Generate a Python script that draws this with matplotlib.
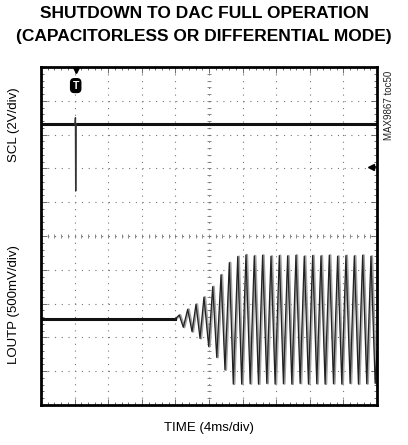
#!/usr/bin/env python3
"""Scope capture: shutdown to DAC full operation (capacitorless / differential)."""

import matplotlib
matplotlib.use("Agg")
import matplotlib.pyplot as plt
import numpy as np

plt.rcParams["font.family"] = ["Liberation Sans", "DejaVu Sans"]
plt.rcParams["lines.scale_dashes"] = False

# time in ms (4 ms/div), amplitude in screen divisions (0..10)
scl_t = [0.0, 40.0]
scl_y = [8.31, 8.31]
scl_spike_t = [4.06, 4.10, 4.13, 4.17]
scl_spike_y = [8.31, 8.50, 6.33, 8.31]

loutp_idle_t = [0.0, 15.95]
loutp_idle_y = [2.54, 2.54]

# extrema of the LOUTP burst
loutp_t = [15.95, 16.46, 16.94, 17.46, 17.98, 18.45, 18.93, 19.40, 19.96,
           20.44, 20.92, 21.43, 21.90, 22.42, 22.89, 23.42, 23.89, 24.40,
           24.90, 25.39, 25.89, 26.38, 26.88, 27.38, 27.87, 28.37, 28.86,
           29.36, 29.86, 30.35, 30.85, 31.34, 31.84, 32.34, 32.83, 33.33,
           33.82, 34.32, 34.82, 35.31, 35.81, 36.30, 36.80, 37.30, 37.79,
           38.29, 38.78, 39.28, 39.78, 40.0]
loutp_y = [2.54, 2.66, 2.30, 2.83, 2.17, 2.98, 1.97, 3.19, 1.73,
           3.50, 1.41, 3.85, 1.04, 4.21, 0.62, 4.39, 0.62, 4.44,
           0.63, 4.41, 0.62, 4.43, 0.64, 4.40, 0.62, 4.42, 0.63,
           4.41, 0.62, 4.43, 0.64, 4.40, 0.62, 4.42, 0.63, 4.41,
           0.62, 4.43, 0.63, 4.40, 0.62, 4.42, 0.64, 4.41, 0.62,
           4.43, 0.63, 4.40, 0.64, 1.60]

W, H = 408, 445
fig = plt.figure(figsize=(W / 100, H / 100), dpi=100)
ax = fig.add_axes([41 / W, 1 - 405 / H, 336 / W, 338 / H])
ax.set_xlim(0, 40)
ax.set_ylim(0, 10)

# graticule
dots = (0, (0.8, 4.05))
for x in np.arange(4, 40, 4):
    ax.axvline(x, color="#777777", lw=0.8, ls=dots, zorder=1)
for y in range(1, 10):
    ax.axhline(y, color="#777777", lw=0.8, ls=dots, zorder=1)
minor_x = np.arange(0, 40.01, 0.8)
minor_y = np.arange(0, 10.01, 0.2)
ax.plot(minor_x, np.full_like(minor_x, 5), ls="none", marker="|", ms=3.2,
        mew=0.6, color="#777777", zorder=1)
ax.plot(np.full_like(minor_y, 20), minor_y, ls="none", marker="_", ms=3.2,
        mew=0.6, color="#777777", zorder=1)

ax.set_xticks(np.arange(0, 41, 4))
ax.set_xticks(minor_x, minor=True)
ax.set_yticks(np.arange(0, 11, 1))
ax.set_yticks(minor_y, minor=True)
ax.tick_params(which="both", direction="in", top=True, right=True,
               labelbottom=False, labelleft=False, color="#555555")
ax.tick_params(which="major", length=4, width=0.6)
ax.tick_params(which="minor", length=2.5, width=0.6)
for s in ax.spines.values():
    s.set_linewidth(2.0)
    s.set_zorder(5)

# traces
ax.plot(scl_t, scl_y, color="#111111", lw=2.2, zorder=3)
ax.plot(scl_spike_t, scl_spike_y, color="#333333", lw=1.0, zorder=3)
ax.plot(loutp_idle_t, loutp_idle_y, color="#111111", lw=2.2, zorder=3)
ax.plot(np.asarray(loutp_t) + 0.12, loutp_y, color="#a0a0a0", lw=1.7, zorder=2)
ax.plot(loutp_t, loutp_y, color="#222222", lw=0.9, zorder=3)

# trigger marker and ground marker
ax.plot([4.13], [9.9], marker="v", ms=5, color="black", clip_on=False, zorder=6)
ax.text(4.13, 9.45, "T", color="white", fontsize=7.5, fontweight="bold",
        ha="center", va="center", zorder=6,
        bbox=dict(boxstyle="round,pad=0.18,rounding_size=0.35", fc="black", ec="black"))
ax.plot([39.3, 39.9], [7.04, 7.04], color="black", lw=1.2, zorder=6)
ax.plot([39.3], [7.04], marker="<", ms=4.5, color="black", zorder=6)

# text
title_kw = dict(ha="center", va="center", fontsize=12.5, fontweight="bold")
fig.text(204 / W, 1 - 14 / H, "SHUTDOWN TO DAC FULL OPERATION", **title_kw)
fig.text(204 / W, 1 - 37 / H, "(CAPACITORLESS OR DIFFERENTIAL MODE)", **title_kw)
fig.text(14 / W, 1 - 125 / H, "SCL (2V/div)", rotation=90, ha="center",
         va="center", fontsize=9.5)
fig.text(14 / W, 1 - 305 / H, "LOUTP (500mV/div)", rotation=90, ha="center",
         va="center", fontsize=9.5)
fig.text(209 / W, 1 - 428 / H, "TIME (4ms/div)", ha="center", va="center",
         fontsize=9.5)
fig.text(389 / W, 1 - 105 / H, "MAX9867 toc50", rotation=90, ha="center",
         va="center", fontsize=7, color="#222222")

fig.savefig("out.png", dpi=100)
